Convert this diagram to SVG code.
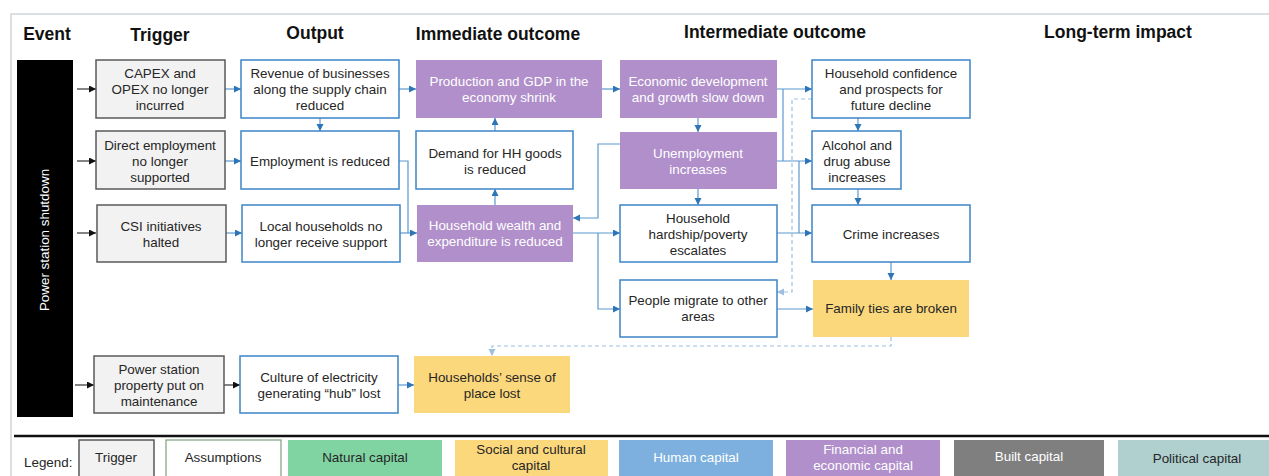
<svg xmlns="http://www.w3.org/2000/svg" width="1269" height="476" viewBox="0 0 1269 476">
<defs>
<style>
.hdr{font-family:"Liberation Sans",Arial,sans-serif;font-size:17.5px;font-weight:bold;fill:#111;text-anchor:middle}
.t{font-family:"Liberation Sans",Arial,sans-serif;font-size:13.4px;fill:#262626;text-anchor:middle}
.tw{font-family:"Liberation Sans",Arial,sans-serif;font-size:13.4px;fill:#fff;text-anchor:middle}
.trg{fill:#f2f2f2;stroke:#595959;stroke-width:1.5}
.asm{fill:#fff;stroke:#3d85c6;stroke-width:1.5}
.fin{fill:#b08fca}
.soc{fill:#fcd87d}
.ln{fill:none;stroke:#5a98d0;stroke-width:1.2}
.lk{fill:none;stroke:#333;stroke-width:1.2}
.dsh{fill:none;stroke:#9dbfe0;stroke-width:1.2;stroke-dasharray:4 3}
</style>
<marker id="ab" markerUnits="userSpaceOnUse" markerWidth="8" markerHeight="8" refX="7" refY="3.5" orient="auto"><path d="M0,0 L7,3.5 L0,7 z" fill="#2e75b6"/></marker>
<marker id="ak" markerUnits="userSpaceOnUse" markerWidth="8" markerHeight="8" refX="7" refY="3.5" orient="auto"><path d="M0,0 L7,3.5 L0,7 z" fill="#111"/></marker>
<marker id="al" markerUnits="userSpaceOnUse" markerWidth="8" markerHeight="8" refX="7" refY="3.5" orient="auto"><path d="M0,0 L7,3.5 L0,7 z" fill="#9dbfe0"/></marker>
</defs>
<rect width="1269" height="476" fill="#fff"/>
<path d="M11,476 V14 H1269" fill="none" stroke="#d0d5da" stroke-width="1.5"/>
<line x1="14" y1="436" x2="1269" y2="436" stroke="#111" stroke-width="2.5"/>

<g id="headers">
<text class="hdr" x="47" y="40">Event</text>
<text class="hdr" x="160" y="41">Trigger</text>
<text class="hdr" x="315" y="39">Output</text>
<text class="hdr" x="498" y="40">Immediate  outcome</text>
<text class="hdr" x="775" y="38">Intermediate  outcome</text>
<text class="hdr" x="1118" y="38">Long-term  impact</text>
</g>

<g id="connectors">
<line class="lk" x1="77" y1="89" x2="96" y2="89" marker-end="url(#ak)"/>
<line class="lk" x1="77" y1="161" x2="96" y2="161" marker-end="url(#ak)"/>
<line class="lk" x1="77" y1="233" x2="96" y2="233" marker-end="url(#ak)"/>
<line class="lk" x1="75" y1="385" x2="94" y2="385" marker-end="url(#ak)"/>
<line class="ln" x1="225" y1="89" x2="241" y2="89" marker-end="url(#ab)"/>
<line class="ln" x1="225" y1="161" x2="241" y2="161" marker-end="url(#ab)"/>
<line class="ln" x1="226" y1="233" x2="242" y2="233" marker-end="url(#ab)"/>
<line class="lk" x1="224" y1="385" x2="240" y2="385" marker-end="url(#ak)"/>
<line class="ln" x1="320" y1="118" x2="320" y2="131" marker-end="url(#ab)"/>
<line class="ln" x1="399" y1="89" x2="416" y2="89" marker-end="url(#ab)"/>
<path class="ln" d="M399,161 H408 V233"/>
<line class="ln" x1="400" y1="233" x2="417" y2="233" marker-end="url(#ab)"/>
<line class="ln" x1="398" y1="385" x2="414" y2="385" marker-end="url(#ab)"/>
<line class="ln" x1="495" y1="205" x2="495" y2="189" marker-end="url(#ab)"/>
<line class="ln" x1="495" y1="131" x2="495" y2="118" marker-end="url(#ab)"/>
<line class="ln" x1="602" y1="89" x2="620" y2="89" marker-end="url(#ab)"/>
<line class="ln" x1="698" y1="118" x2="698" y2="132" marker-end="url(#ab)"/>
<line class="ln" x1="698" y1="189" x2="698" y2="205" marker-end="url(#ab)"/>
<path class="ln" d="M620,144 H598 V218 H573" marker-end="url(#ab)"/>
<path class="ln" d="M573,233 H620" marker-end="url(#ab)"/>
<path class="ln" d="M598,233 V309 H620" marker-end="url(#ab)"/>
<path class="ln" d="M777,89 H812" marker-end="url(#ab)"/>
<path class="ln" d="M783,89 V161"/>
<path class="ln" d="M777,161 H812" marker-end="url(#ab)"/>
<path class="ln" d="M799,161 V233"/>
<path class="ln" d="M777,233 H812" marker-end="url(#ab)"/>
<path class="dsh" d="M812,99 H792 V292 H777" marker-end="url(#al)"/>
<path class="ln" d="M777,309 H813" marker-end="url(#ab)"/>
<line class="ln" x1="858" y1="118" x2="858" y2="131" marker-end="url(#ab)"/>
<line class="ln" x1="858" y1="189" x2="858" y2="205" marker-end="url(#ab)"/>
<line class="ln" x1="891" y1="262" x2="891" y2="280" marker-end="url(#ab)"/>
<path class="dsh" d="M891,337 V346 H492 V356" marker-end="url(#al)"/>
</g>

<g id="event">
<rect x="17" y="60" width="56" height="357" fill="#000"/>
<text transform="translate(49,240) rotate(-90)" style="font-family:'Liberation Sans',Arial,sans-serif;font-size:13.4px;fill:#fff;text-anchor:middle">Power station shutdown</text>
</g>

<g id="t1"><rect class="trg" x="96" y="60" width="129" height="58"/><text class="t" x="160" y="78">CAPEX and</text><text class="t" x="160" y="94">OPEX no longer</text><text class="t" x="160" y="110">incurred</text></g>
<g id="t2"><rect class="trg" x="96" y="131" width="129" height="58"/><text class="t" x="160" y="150">Direct employment</text><text class="t" x="160" y="166">no longer</text><text class="t" x="160" y="182">supported</text></g>
<g id="t3"><rect class="trg" x="97" y="205" width="129" height="57"/><text class="t" x="161" y="231">CSI initiatives</text><text class="t" x="161" y="247">halted</text></g>
<g id="t4"><rect class="trg" x="94" y="356" width="130" height="57"/><text class="t" x="159" y="374">Power station</text><text class="t" x="159" y="390">property put on</text><text class="t" x="159" y="406">maintenance</text></g>

<g id="o1"><rect class="asm" x="241" y="60" width="158" height="58"/><text class="t" x="320" y="78">Revenue of businesses</text><text class="t" x="320" y="94">along the supply chain</text><text class="t" x="320" y="110">reduced</text></g>
<g id="o2"><rect class="asm" x="241" y="131" width="158" height="58"/><text class="t" x="320" y="166">Employment is reduced</text></g>
<g id="o3"><rect class="asm" x="242" y="205" width="158" height="57"/><text class="t" x="321" y="231">Local households no</text><text class="t" x="321" y="247">longer receive support</text></g>
<g id="o4"><rect class="asm" x="240" y="356" width="158" height="57"/><text class="t" x="319" y="382">Culture of electricity</text><text class="t" x="319" y="398">generating “hub” lost</text></g>

<g id="i1"><rect class="fin" x="416" y="60" width="186" height="58"/><text class="tw" x="509" y="86">Production and GDP in the</text><text class="tw" x="509" y="102">economy shrink</text></g>
<g id="i2"><rect class="asm" x="416" y="131" width="157" height="58"/><text class="t" x="495" y="158">Demand for HH goods</text><text class="t" x="495" y="174">is reduced</text></g>
<g id="i3"><rect class="fin" x="417" y="205" width="156" height="57"/><text class="tw" x="495" y="230">Household wealth and</text><text class="tw" x="495" y="246">expenditure is reduced</text></g>
<g id="i4"><rect class="soc" x="414" y="356" width="156" height="57"/><text class="t" x="492" y="382">Households’ sense of</text><text class="t" x="492" y="398">place lost</text></g>

<g id="m1"><rect class="fin" x="620" y="60" width="157" height="58"/><text class="tw" x="698" y="86">Economic development</text><text class="tw" x="698" y="102">and growth slow down</text></g>
<g id="m2"><rect class="fin" x="620" y="132" width="157" height="57"/><text class="tw" x="698" y="158">Unemployment</text><text class="tw" x="698" y="174">increases</text></g>
<g id="m3"><rect class="asm" x="620" y="205" width="157" height="57"/><text class="t" x="698" y="223">Household</text><text class="t" x="698" y="239">hardship/poverty</text><text class="t" x="698" y="255">escalates</text></g>
<g id="m4"><rect class="asm" x="620" y="280" width="157" height="57"/><text class="t" x="698" y="305">People migrate to other</text><text class="t" x="698" y="321">areas</text></g>

<g id="r1"><rect class="asm" x="812" y="60" width="158" height="58"/><text class="t" x="891" y="78">Household confidence</text><text class="t" x="891" y="94">and prospects for</text><text class="t" x="891" y="110">future decline</text></g>
<g id="r2"><rect class="asm" x="812" y="131" width="89" height="58"/><text class="t" x="857" y="150">Alcohol and</text><text class="t" x="857" y="166">drug abuse</text><text class="t" x="857" y="182">increases</text></g>
<g id="r3"><rect class="asm" x="812" y="205" width="158" height="57"/><text class="t" x="891" y="239">Crime increases</text></g>
<g id="r4"><rect class="soc" x="813" y="280" width="156" height="57"/><text class="t" x="891" y="313">Family ties are broken</text></g>

<g id="legend">
<text x="24" y="467" style="font-family:'Liberation Sans',Arial,sans-serif;font-size:13.4px;fill:#262626">Legend:</text>
<rect class="trg" x="79" y="440" width="75" height="38"/><text class="t" x="116" y="462">Trigger</text>
<rect x="166" y="440" width="115" height="38" fill="#fff" stroke="#7f9f7f" stroke-width="1.2"/><text class="t" x="223" y="462">Assumptions</text>
<rect x="288" y="440" width="154" height="38" fill="#80d4a2"/><text class="t" x="365" y="462">Natural capital</text>
<rect x="455" y="440" width="153" height="38" fill="#fcd87d"/><text class="t" x="531" y="454">Social and cultural</text><text class="t" x="531" y="470">capital</text>
<rect x="619" y="440" width="154" height="38" fill="#7db0de"/><text class="tw" x="696" y="462">Human capital</text>
<rect x="786" y="440" width="154" height="38" fill="#b08fca"/><text class="tw" x="863" y="454">Financial and</text><text class="tw" x="863" y="470">economic capital</text>
<rect x="954" y="440" width="150" height="38" fill="#7f7f7f"/><text class="tw" x="1029" y="461">Built capital</text>
<rect x="1118" y="440" width="151" height="38" fill="#b0d0d0"/><text class="t" x="1197" y="463">Political capital</text>
</g>
</svg>
